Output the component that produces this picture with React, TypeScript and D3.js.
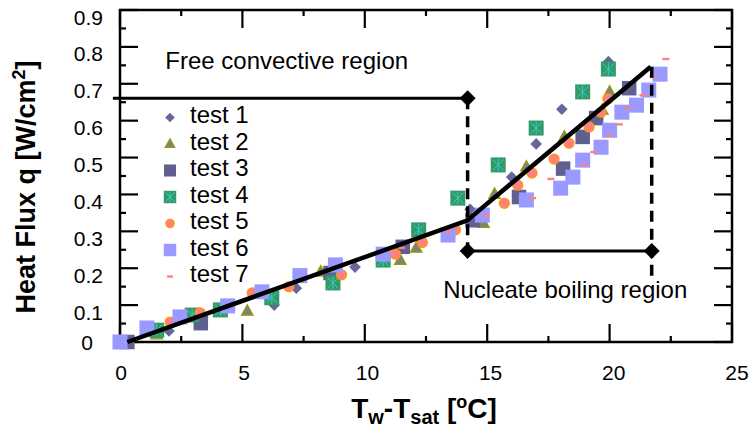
import React from "react";
import * as d3 from "d3";

const W = 755;
const H = 445;

const xMajorTicks = [0, 5, 10, 15, 20, 25];
const xMinorTicks = [2.5, 7.5, 12.5, 17.5, 22.5];
const xTickLabels = ["0", "5", "10", "15", "20", "25"];
const yMajorTicks = [0, 0.1, 0.2, 0.3, 0.4, 0.5, 0.6, 0.7, 0.8, 0.9];
const yMinorTicks = [0.05, 0.15, 0.25, 0.35, 0.45, 0.55, 0.65, 0.75, 0.85];
const yTickLabels = ["0", "0.1", "0.2", "0.3", "0.4", "0.5", "0.6", "0.7", "0.8", "0.9"];

const seriesNames = ["test 1", "test 2", "test 3", "test 4", "test 5", "test 6", "test 7"];
const seriesKinds = ["diamond", "triangle", "square", "greenStar", "circle", "lavender", "dash"];

const test1: [number, number][] = [
  [2.0, 0.03], [6.3, 0.1], [7.2, 0.146], [9.6, 0.203], [14.3, 0.36],
  [16.0, 0.447], [17.0, 0.537], [18.05, 0.631], [19.95, 0.76],
];
const test2: [number, number][] = [
  [1.5, 0.02], [5.2, 0.084], [8.2, 0.19], [11.45, 0.222], [12.1, 0.255],
  [14.85, 0.322], [15.3, 0.401], [16.6, 0.475], [18.15, 0.556], [19.7, 0.629], [20.0, 0.678],
];
const test3: [number, number][] = [
  [0.3, 0.0], [3.3, 0.051], [8.6, 0.187], [11.55, 0.258], [14.4, 0.33],
  [16.3, 0.393], [18.1, 0.47], [18.9, 0.556], [19.45, 0.607], [20.8, 0.688],
];
const test4: [number, number][] = [
  [1.5, 0.032], [2.95, 0.073], [4.1, 0.087], [6.2, 0.12], [8.7, 0.16], [10.75, 0.222],
  [12.2, 0.304], [13.8, 0.39], [15.45, 0.48], [17.0, 0.58], [18.9, 0.678], [19.95, 0.74],
];
const test5: [number, number][] = [
  [2.05, 0.054], [3.27, 0.079], [5.4, 0.133], [6.9, 0.15], [9.05, 0.182], [11.25, 0.238],
  [12.35, 0.27], [13.7, 0.304], [15.7, 0.376], [16.25, 0.425], [16.83, 0.458], [17.73, 0.496],
  [18.34, 0.539], [19.16, 0.583], [19.65, 0.623], [19.93, 0.659],
];
const test6: [number, number][] = [
  [0, 0], [1.1, 0.038], [2.45, 0.068], [4.4, 0.098], [5.8, 0.136], [7.35, 0.18],
  [8.8, 0.209], [10.75, 0.238], [13.4, 0.29], [14.8, 0.344], [16.6, 0.385], [18.0, 0.417],
  [18.5, 0.447], [18.9, 0.493], [19.65, 0.528], [20.0, 0.574], [20.5, 0.623], [21.1, 0.642],
  [21.6, 0.683], [22.06, 0.726],
];
const test7: [number, number][] = [
  [11.5, 0.255], [13.4, 0.298], [14.95, 0.344], [16.85, 0.39], [17.6, 0.442], [18.95, 0.48],
  [19.36, 0.515], [20.0, 0.56], [20.4, 0.59], [20.75, 0.634], [21.36, 0.669], [21.78, 0.72],
  [22.3, 0.767],
];
const allSeries = [test1, test2, test3, test4, test5, test6, test7];

const fitLine: [number, number][] = [[0.3, 0], [14.17, 0.329], [21.68, 0.746]];
const freeLine: [number, number][] = [[-0.29, 0.661], [14.2, 0.661]];
const nucleateLine: [number, number][] = [[14.2, 0.247], [21.72, 0.247]];
const dashLeft: [number, number][] = [[14.2, 0.661], [14.2, 0.247]];
const dashRight: [number, number][] = [[21.72, 0.746], [21.72, 0.163]];
const annotDiamonds: [number, number][] = [[14.2, 0.661], [14.2, 0.247], [21.72, 0.247]];
const regionLabels = ["Free convective region", "Nucleate boiling region"];
const regionLabelPos: [number, number][] = [[1.85, 0.74], [13.2, 0.119]];

const FONT = "'Liberation Sans', Arial, Helvetica, sans-serif";

const x = d3.scaleLinear().domain([0, 25]).range([120, 732]);
const y = d3.scaleLinear().domain([0, 0.9]).range([342, 10]);
const xLabel = d3.scaleLinear().domain([0, 25]).range([121, 737]);

function Marker({ kind, cx, cy, legend }: { kind: string; cx: number; cy: number; legend?: boolean }) {
  const k = legend ? 0.83 : 1;
  switch (kind) {
    case "diamond": {
      const r = 5.8 * k;
      return <path d={`M${cx},${cy - r}L${cx + r},${cy}L${cx},${cy + r}L${cx - r},${cy}Z`} fill="#666699" />;
    }
    case "triangle": {
      const s = 11.5 * k;
      const h = 10.5 * k;
      return (
        <path
          d={`M${cx},${cy - h * 0.6}L${cx + s / 2},${cy + h * 0.4}L${cx - s / 2},${cy + h * 0.4}Z`}
          fill="#808080"
          stroke="#999900"
          strokeWidth={1.2}
        />
      );
    }
    case "square": {
      const s = 14.5 * k;
      return <rect x={cx - s / 2} y={cy - s / 2} width={s} height={s} fill="#5f5f91" />;
    }
    case "greenStar": {
      const s = 15 * k;
      const a = s * 0.36;
      return (
        <g>
          <rect x={cx - s / 2} y={cy - s / 2} width={s} height={s} fill="#339966" />
          <g stroke="#33CCCC" strokeWidth={1}>
            <line x1={cx} y1={cy - a * 1.15} x2={cx} y2={cy + a * 1.15} />
            <line x1={cx - a} y1={cy - a} x2={cx + a} y2={cy + a} />
            <line x1={cx - a} y1={cy + a} x2={cx + a} y2={cy - a} />
          </g>
        </g>
      );
    }
    case "circle":
      return <circle cx={cx} cy={cy} r={5 * k} fill="#FF8080" stroke="#FF9900" strokeWidth={1.3} />;
    case "lavender": {
      const s = 15 * k;
      return <rect x={cx - s / 2} y={cy - s / 2} width={s} height={s} fill="#9999FF" />;
    }
    case "dash": {
      const w = 7 * k;
      return <rect x={cx - w / 2} y={cy - 1.2} width={w} height={2.4} fill="#FF8080" />;
    }
  }
  return null;
}

export default function App() {
  const line = d3.line<[number, number]>().x((d) => x(d[0])).y((d) => y(d[1]));
  const legendX = 170;
  const legendTextX = 190;
  const legendBase0 = 123;
  const legendStep = 26.5;

  return (
    <svg width={W} height={H} style={{ position: "absolute", left: 0, top: 0, background: "#fff" }} fontFamily={FONT}>
      <rect x={0} y={0} width={W} height={H} fill="#fff" />
      {/* frame */}
      <rect x={x(0)} y={y(0.9)} width={x(25) - x(0)} height={y(0) - y(0.9)} fill="none" stroke="#000" strokeWidth={2.5} />
      {/* ticks */}
      <g stroke="#000" strokeWidth={2.2}>
        {xMajorTicks.map((t) => (
          <g key={"xm" + t}>
            <line x1={x(t)} x2={x(t)} y1={y(0)} y2={y(0) - 18} />
            <line x1={x(t)} x2={x(t)} y1={y(0.9)} y2={y(0.9) + 18} />
          </g>
        ))}
        {xMinorTicks.map((t) => (
          <g key={"xn" + t}>
            <line x1={x(t)} x2={x(t)} y1={y(0)} y2={y(0) - 6} />
            <line x1={x(t)} x2={x(t)} y1={y(0.9)} y2={y(0.9) + 6} />
          </g>
        ))}
        {yMajorTicks.map((t) => (
          <g key={"ym" + t}>
            <line x1={x(0)} x2={x(0) + 18} y1={y(t)} y2={y(t)} />
            <line x1={x(25)} x2={x(25) - 18} y1={y(t)} y2={y(t)} />
          </g>
        ))}
        {yMinorTicks.map((t) => (
          <g key={"yn" + t}>
            <line x1={x(0)} x2={x(0) + 6} y1={y(t)} y2={y(t)} />
            <line x1={x(25)} x2={x(25) - 6} y1={y(t)} y2={y(t)} />
          </g>
        ))}
      </g>
      {/* tick labels */}
      <g fontSize={21} fill="#000">
        {xMajorTicks.map((t, i) => (
          <text key={"xl" + t} x={xLabel(t)} y={372} textAnchor="middle" dominantBaseline="central">
            {xTickLabels[i]}
          </text>
        ))}
        {yMajorTicks.map((t, i) =>
          t === 0 ? (
            <text key={"yl" + t} x={87} y={y(t)} textAnchor="middle" dominantBaseline="central">
              {yTickLabels[i]}
            </text>
          ) : (
            <text key={"yl" + t} x={103} y={y(t) + 7} textAnchor="end" dominantBaseline="central">
              {yTickLabels[i]}
            </text>
          )
        )}
      </g>
      {/* axis titles */}
      <text x={424} y={418} textAnchor="middle" fontSize={28} fontWeight="bold">
        T<tspan fontSize={20} dy={6}>w</tspan>
        <tspan dy={-6}>-T</tspan>
        <tspan fontSize={20} dy={6}>sat</tspan>
        <tspan dy={-6}> [</tspan>
        <tspan fontSize={18} dy={-10}>o</tspan>
        <tspan dy={10}>C]</tspan>
      </text>
      <text transform={`translate(35,187) rotate(-90)`} textAnchor="middle" fontSize={27} fontWeight="bold">
        Heat Flux q [W/cm<tspan fontSize={18} dy={-10}>2</tspan>
        <tspan dy={10}>]</tspan>
      </text>
      {/* markers */}
      {allSeries.map((s, si) => (
        <g key={"s" + si}>
          {s.map((d, i) => (
            <Marker key={i} kind={seriesKinds[si]} cx={x(d[0])} cy={y(d[1])} />
          ))}
        </g>
      ))}
      {/* legend */}
      {seriesNames.map((n, i) => (
        <g key={"lg" + i}>
          <Marker kind={seriesKinds[i]} cx={legendX} cy={legendBase0 + i * legendStep - 5.5} legend />
          <text x={legendTextX} y={legendBase0 + i * legendStep} fontSize={24}>
            {n}
          </text>
        </g>
      ))}
      {/* fit line */}
      <path d={line(fitLine) || ""} fill="none" stroke="#000" strokeWidth={4.5} />
      {/* annotations */}
      <path d={line(freeLine) || ""} fill="none" stroke="#000" strokeWidth={3} />
      <path d={line(nucleateLine) || ""} fill="none" stroke="#000" strokeWidth={3} />
      <path d={line(dashLeft) || ""} fill="none" stroke="#000" strokeWidth={3.5} strokeDasharray="11,7" />
      <path d={line(dashRight) || ""} fill="none" stroke="#000" strokeWidth={3.5} strokeDasharray="11,7" />
      {annotDiamonds.map((d, i) => {
        const cx = x(d[0]);
        const cy = y(d[1]);
        const r = 8;
        return <path key={"ad" + i} d={`M${cx},${cy - r}L${cx + r},${cy}L${cx},${cy + r}L${cx - r},${cy}Z`} fill="#000" />;
      })}
      {regionLabels.map((t, i) => (
        <text key={"rl" + i} x={x(regionLabelPos[i][0])} y={y(regionLabelPos[i][1])} fontSize={24}>
          {t}
        </text>
      ))}
    </svg>
  );
}
